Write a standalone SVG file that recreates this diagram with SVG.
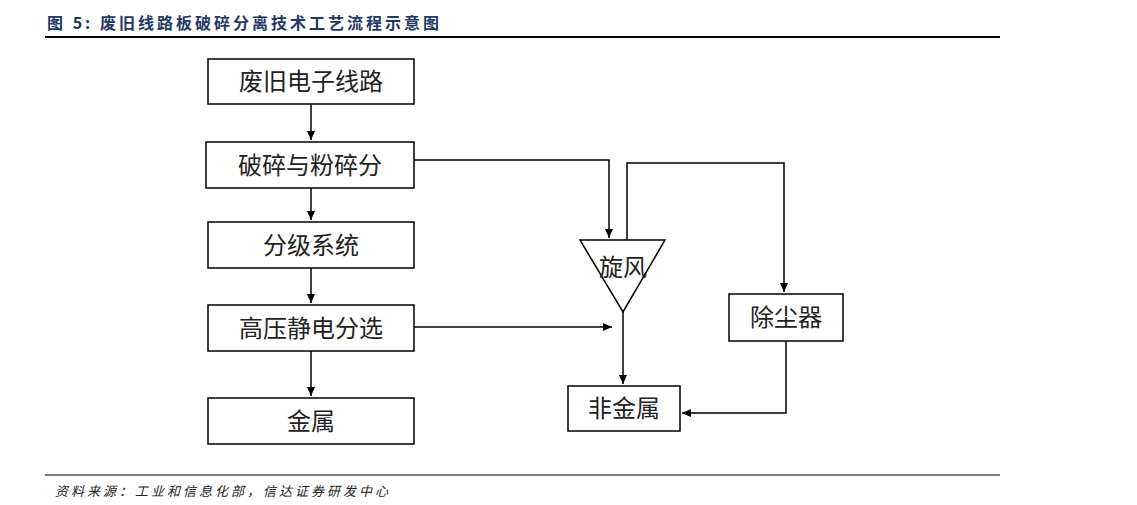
<svg xmlns="http://www.w3.org/2000/svg" width="1137" height="505" viewBox="0 0 1137 505">
<style>
.b{fill:#fff;stroke:#000;stroke-width:1.5}
.t{font-family:"Noto Sans CJK SC","Liberation Serif",serif;font-size:24px;fill:#222;text-anchor:middle}
.c{fill:none;stroke:#000;stroke-width:1.5}
</style>
<defs><marker id="a" markerWidth="10" markerHeight="10" refX="9" refY="5" orient="auto" markerUnits="userSpaceOnUse"><path d="M0,1 L9,5 L0,9 Z" fill="#000"/></marker></defs>
<rect width="1137" height="505" fill="#fff"/>
<text x="47" y="29" font-family="'Noto Sans CJK SC',sans-serif" font-size="16" font-weight="bold" fill="#1f3864" letter-spacing="3">图 5:  废旧线路板破碎分离技术工艺流程示意图</text>
<line x1="45" y1="37" x2="1000" y2="37" stroke="#000" stroke-width="2"/>
<line x1="45" y1="475" x2="1000" y2="475" stroke="#000" stroke-width="1"/>
<text x="55" y="496" font-family="'Noto Sans CJK SC',sans-serif" font-size="13" font-style="italic" fill="#222" letter-spacing="3">资料来源：工业和信息化部，信达证券研发中心</text>
<g id="connectors">
<path class="c" d="M311,104 V140" marker-end="url(#a)"/>
<path class="c" d="M311,188 V220" marker-end="url(#a)"/>
<path class="c" d="M311,268 V303" marker-end="url(#a)"/>
<path class="c" d="M311,351 V396" marker-end="url(#a)"/>
<path class="c" d="M414,160 H609 V238" marker-end="url(#a)"/>
<path class="c" d="M414,327 H612" marker-end="url(#a)"/>
<path class="c" d="M627,240 V163 H784 V292" marker-end="url(#a)"/>
<path class="c" d="M623,312 V384" marker-end="url(#a)"/>
<path class="c" d="M786,341 V413 H682" marker-end="url(#a)"/>
</g>
<g id="n1"><rect class="b" x="208" y="59" width="206" height="45"/><text class="t" x="311" y="90">废旧电子线路</text></g>
<g id="n2"><rect class="b" x="206" y="142" width="208" height="46"/><text class="t" x="310" y="174">破碎与粉碎分</text></g>
<g id="n3"><rect class="b" x="208" y="222" width="206" height="46"/><text class="t" x="311" y="254">分级系统</text></g>
<g id="n4"><rect class="b" x="208" y="305" width="206" height="46"/><text class="t" x="311" y="337">高压静电分选</text></g>
<g id="n5"><rect class="b" x="208" y="398" width="206" height="46"/><text class="t" x="311" y="430">金属</text></g>
<g id="n6"><path class="b" d="M580,240 H665 L623,312 Z"/><text class="t" x="623" y="276">旋风</text></g>
<g id="n7"><rect class="b" x="729" y="294" width="114" height="47"/><text class="t" x="786" y="326">除尘器</text></g>
<g id="n8"><rect class="b" x="568" y="386" width="112" height="45"/><text class="t" x="624" y="417">非金属</text></g>
</svg>
